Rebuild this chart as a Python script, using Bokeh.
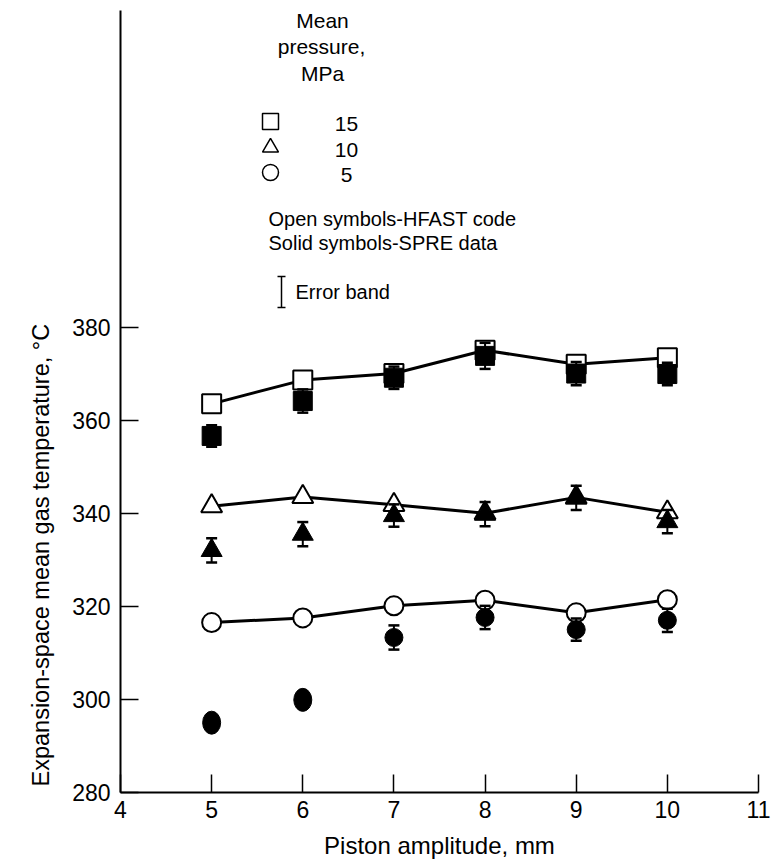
from bokeh.plotting import figure
from bokeh.models import FixedTicker, Range1d, ColumnDataSource, Title
from bokeh.core.properties import value
from bokeh.embed import file_html
from bokeh.resources import INLINE

# Piston amplitude, mm
amplitude = [5, 6, 7, 8, 9, 10]

# HFAST code predictions (open symbols), degC
hfast_15 = [363.5, 368.6, 370.0, 375.0, 372.0, 373.4]
hfast_10 = [341.5, 343.5, 341.8, 340.0, 343.4, 340.2]
hfast_5 = [316.5, 317.5, 320.1, 321.3, 318.6, 321.4]

# SPRE measured data (solid symbols), degC
spre_15 = [356.6, 364.1, 369.1, 373.8, 370.0, 369.9]
spre_10 = [332.0, 335.5, 339.5, 339.8, 343.3, 338.2]
spre_5 = [295.0, 299.9, 313.3, 317.6, 315.0, 317.0]

# error band half-widths, degC
err_15 = [2.3, 2.5, 2.4, 2.8, 2.5, 2.4]
err_10 = [2.6, 2.6, 2.4, 2.6, 2.6, 2.5]
err_5 = [0.0, 0.0, 2.6, 2.5, 2.4, 2.5]

pressures = ["15", "10", "5"]
x_ticks = [4, 5, 6, 7, 8, 9, 10, 11]
y_ticks = [280, 300, 320, 340, 360, 380]

FONT = "Liberation Sans"
W, H = 776, 865
L, R, T, B = 120, 18, 10, 73

p = figure(width=W, height=H, output_backend="svg", toolbar_location=None,
           x_range=Range1d(4, 11), y_range=Range1d(280, 448),
           min_border_left=L, min_border_right=R, min_border_top=T,
           min_border_bottom=B)
p.outline_line_color = None
p.grid.grid_line_color = None
p.background_fill_color = "white"

fw, fh = W - L - R, H - T - B


def at(px, py):
    """canvas pixel -> data coordinates"""
    return 4 + (px - L) * 7 / fw, 280 + (T + fh - py) * 168 / fh


for ax in (p.xaxis[0], p.yaxis[0]):
    ax.axis_line_width = 2
    ax.major_tick_line_width = 1.5
    ax.major_tick_in = 18
    ax.major_tick_out = 0
    ax.minor_tick_line_color = None
    ax.major_label_text_font = FONT
    ax.major_label_text_font_size = "23px"
    ax.major_label_text_color = "black"
    ax.axis_line_color = "black"
    ax.major_tick_line_color = "black"

p.xaxis.ticker = FixedTicker(ticks=x_ticks)
p.yaxis.ticker = FixedTicker(ticks=y_ticks)
p.xaxis.major_label_standoff = 8
p.yaxis.major_label_standoff = 10
p.xaxis.axis_label = "Piston amplitude, mm"
p.xaxis.axis_label_text_font = FONT
p.xaxis.axis_label_text_font_style = "normal"
p.xaxis.axis_label_text_font_size = "24px"
p.xaxis.axis_label_text_color = "black"
p.xaxis.axis_label_standoff = 11

# y axis title, set low along the axis (reads upward from near the bottom)
p.add_layout(Title(text="Expansion-space mean gas temperature, \u00b0C",
                   align="left", offset=6, standoff=32,
                   text_font=FONT, text_font_size="23.5px",
                   text_font_style="normal", text_color="black"), "left")

series = [
    ("square", hfast_15, spre_15, err_15, 19),
    ("triangle", hfast_10, spre_10, err_10, 21),
    ("circle", hfast_5, spre_5, err_5, 19),
]

# HFAST lines and open symbols
for marker, hf, sp, er, sz in series:
    p.line(amplitude, hf, line_width=3, line_color="black")
for marker, hf, sp, er, sz in series:
    p.scatter(amplitude, hf, marker=marker, size=sz, fill_color="white",
              line_color="black", line_width=2)

# SPRE error bands and solid symbols
for marker, hf, sp, er, sz in series:
    src = ColumnDataSource(dict(
        x=amplitude, y=sp,
        lo=[v - e for v, e in zip(sp, er)],
        hi=[v + e for v, e in zip(sp, er)],
    ))
    p.segment(x0="x", y0="lo", x1="x", y1="hi", source=src,
              line_width=2, line_color="black")
    p.scatter(x="x", y="lo", source=src, marker="dash", size=11,
              line_width=2.5, line_color="black")
    p.scatter(x="x", y="hi", source=src, marker="dash", size=11,
              line_width=2.5, line_color="black")
    if marker == "circle":
        banded = [e > 0 for e in er]
        xs = [a for a, b in zip(amplitude, banded) if b]
        ys = [v for v, b in zip(sp, banded) if b]
        p.scatter(xs, ys, marker="circle", size=18, fill_color="black",
                  line_color="black")
        xe = [a for a, b in zip(amplitude, banded) if not b]
        ye = [v for v, b in zip(sp, banded) if not b]
        p.ellipse(xe, ye, width=18, height=23, width_units="screen",
                  height_units="screen", fill_color="black", line_color="black")
    else:
        p.scatter(x="x", y="y", source=src, marker=marker, size=sz,
                  fill_color="black", line_color="black")


# key
def txt(px, py, s, align="left", size="20px"):
    x, y = at(px, py)
    p.text(x=[x], y=[y], text=[s], text_align=align, text_baseline="middle",
           text_font=value(FONT), text_font_size=size, text_color="black")


txt(322, 20, "Mean", "center", "21px")
txt(321, 46, "pressure,", "center", "21px")
txt(322, 73, "MPa", "center", "21px")

key_rows = [121, 147, 172]
for (marker, *_), label, py in zip(series, pressures, key_rows):
    kx, ky = at(270, py)
    p.scatter([kx], [ky], marker=marker, size=16, fill_color="white",
              line_color="black", line_width=1.5)
    txt(346, py + 2, label, "center", "21px")

txt(268, 218, "Open symbols-HFAST code")
txt(268, 242, "Solid symbols-SPRE data")

bx, by0 = at(281, 307)
_, by1 = at(281, 276)
p.segment([bx], [by0], [bx], [by1], line_width=1.5, line_color="black")
p.scatter([bx, bx], [by0, by1], marker="dash", size=8, line_width=1.5,
          line_color="black")
txt(295, 291, "Error band")

open("out.html", "w").write(file_html(p, INLINE))
